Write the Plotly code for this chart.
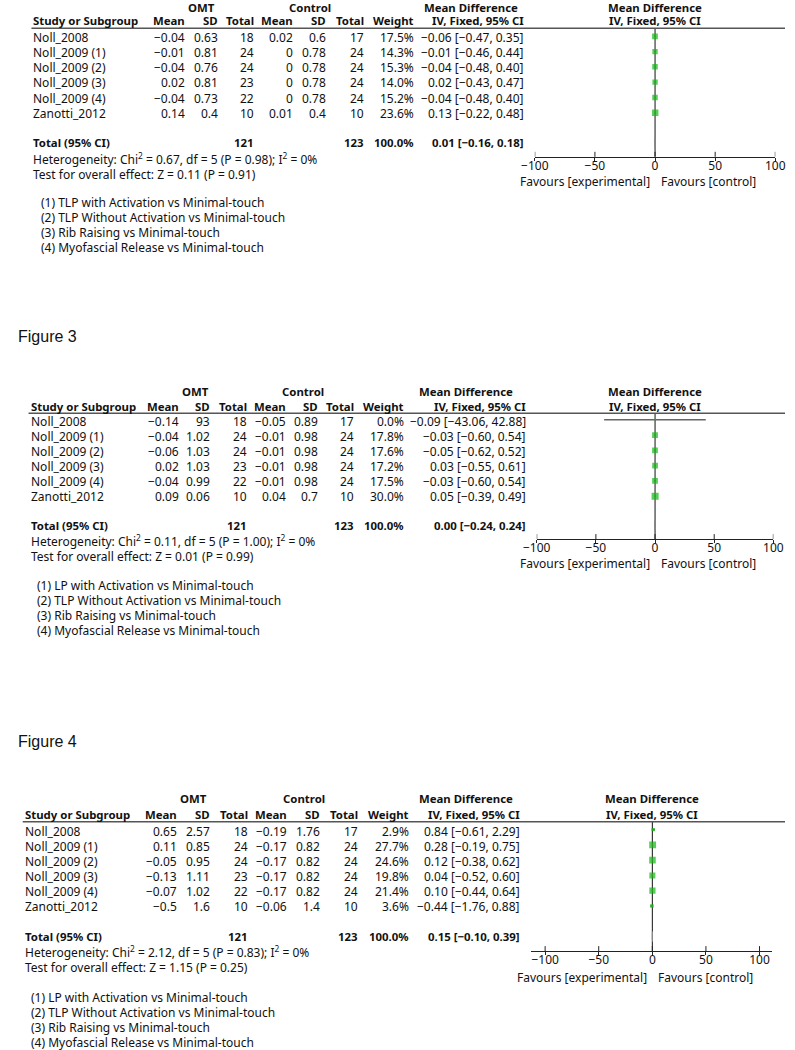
import plotly.graph_objects as go

W, H = 795, 1050
GREEN = "#13b613"
TXT = "#111111"
FONT = "Noto Sans"
FS = 12
FSB = 11.4

# ---------------- data ----------------
studies = ["Noll_2008", "Noll_2009 (1)", "Noll_2009 (2)", "Noll_2009 (3)", "Noll_2009 (4)", "Zanotti_2012"]

# Panel A (top, unlabelled)
a_omt_mean = [-0.04, -0.01, -0.04, 0.02, -0.04, 0.14]
a_omt_sd = [0.63, 0.81, 0.76, 0.81, 0.73, 0.4]
a_omt_n = [18, 24, 24, 23, 22, 10]
a_ctl_mean = [0.02, 0, 0, 0, 0, 0.01]
a_ctl_sd = [0.6, 0.78, 0.78, 0.78, 0.78, 0.4]
a_ctl_n = [17, 24, 24, 24, 24, 10]
a_weight = [17.5, 14.3, 15.3, 14.0, 15.2, 23.6]
a_md = [-0.06, -0.01, -0.04, 0.02, -0.04, 0.13]
a_lo = [-0.47, -0.46, -0.48, -0.43, -0.48, -0.22]
a_hi = [0.35, 0.44, 0.40, 0.47, 0.40, 0.48]
a_total = [121, 123, 100.0, 0.01, -0.16, 0.18]
a_stats = ["0.67", "5", "0.98", "0", "0.11", "0.91"]
a_notes = ["(1) TLP with Activation vs Minimal-touch", "(2) TLP Without Activation vs Minimal-touch",
           "(3) Rib Raising vs Minimal-touch", "(4) Myofascial Release vs Minimal-touch"]

# Panel B (Figure 3)
b_omt_mean = [-0.14, -0.04, -0.06, 0.02, -0.04, 0.09]
b_omt_sd = [93, 1.02, 1.03, 1.03, 0.99, 0.06]
b_omt_n = [18, 24, 24, 23, 22, 10]
b_ctl_mean = [-0.05, -0.01, -0.01, -0.01, -0.01, 0.04]
b_ctl_sd = [0.89, 0.98, 0.98, 0.98, 0.98, 0.7]
b_ctl_n = [17, 24, 24, 24, 24, 10]
b_weight = [0.0, 17.8, 17.6, 17.2, 17.5, 30.0]
b_md = [-0.09, -0.03, -0.05, 0.03, -0.03, 0.05]
b_lo = [-43.06, -0.60, -0.62, -0.55, -0.60, -0.39]
b_hi = [42.88, 0.54, 0.52, 0.61, 0.54, 0.49]
b_total = [121, 123, 100.0, 0.00, -0.24, 0.24]
b_stats = ["0.11", "5", "1.00", "0", "0.01", "0.99"]
b_notes = ["(1) LP with Activation vs Minimal-touch", "(2) TLP Without Activation vs Minimal-touch",
           "(3) Rib Raising vs Minimal-touch", "(4) Myofascial Release vs Minimal-touch"]

# Panel C (Figure 4)
c_omt_mean = [0.65, 0.11, -0.05, -0.13, -0.07, -0.5]
c_omt_sd = [2.57, 0.85, 0.95, 1.11, 1.02, 1.6]
c_omt_n = [18, 24, 24, 23, 22, 10]
c_ctl_mean = [-0.19, -0.17, -0.17, -0.17, -0.17, -0.06]
c_ctl_sd = [1.76, 0.82, 0.82, 0.82, 0.82, 1.4]
c_ctl_n = [17, 24, 24, 24, 24, 10]
c_weight = [2.9, 27.7, 24.6, 19.8, 21.4, 3.6]
c_md = [0.84, 0.28, 0.12, 0.04, 0.10, -0.44]
c_lo = [-0.61, -0.19, -0.38, -0.52, -0.44, -1.76]
c_hi = [2.29, 0.75, 0.62, 0.60, 0.64, 0.88]
c_total = [121, 123, 100.0, 0.15, -0.10, 0.39]
c_stats = ["2.12", "5", "0.83", "0", "1.15", "0.25"]
c_notes = ["(1) LP with Activation vs Minimal-touch", "(2) TLP Without Activation vs Minimal-touch",
           "(3) Rib Raising vs Minimal-touch", "(4) Myofascial Release vs Minimal-touch"]

tick_vals = [-100, -50, 0, 50, 100]

# ---------------- layout constants (pixels) ----------------
panels = [
    dict(label=None, data=(a_omt_mean, a_omt_sd, a_omt_n, a_ctl_mean, a_ctl_sd, a_ctl_n, a_weight, a_md, a_lo, a_hi),
         total=a_total, stats=a_stats, notes=a_notes,
         left=19, cols=[177, 211, 249, 289, 323, 362, 413, 527], omt_c=193, ctl_c=305, md_c=471, plot_c=661,
         hdr1=7, hdr2=20.5, line=28.3, row0=37.7, step=15.1, tot=142.7, het=159.2, test=174.5,
         foot0=202.7, foot_left=27, axis=156.7, fav=181, xdom=(537, 785), xrange=(-100, 100)),
    dict(label=("Figure 3", 3, 336.7),
         data=(b_omt_mean, b_omt_sd, b_omt_n, b_ctl_mean, b_ctl_sd, b_ctl_n, b_weight, b_md, b_lo, b_hi),
         total=b_total, stats=b_stats, notes=b_notes,
         left=16, cols=[171, 203, 241, 282, 315, 352, 403, 529], omt_c=187, ctl_c=298, md_c=466, plot_c=661,
         hdr1=391, hdr2=406, line=413.3, row0=421.2, step=15.1, tot=525.5, het=541.2, test=556.8,
         foot0=585, foot_left=23, axis=539, fav=563.5, xdom=(539, 783), xrange=(-100, 100)),
    dict(label=("Figure 4", 3, 741.7),
         data=(c_omt_mean, c_omt_sd, c_omt_n, c_ctl_mean, c_ctl_sd, c_ctl_n, c_weight, c_md, c_lo, c_hi),
         total=c_total, stats=c_stats, notes=c_notes,
         left=10, cols=[169, 203, 242, 283, 317, 356, 408, 523], omt_c=185.5, ctl_c=299, md_c=466, plot_c=658,
         hdr1=798.3, hdr2=814, line=821.7, row0=831, step=15.1, tot=936.7, het=952.2, test=967.5,
         foot0=997.3, foot_left=17, axis=951, fav=977, xdom=(533.3, 782), xrange=(-113, 112)),
]


def fx(x):
    return x / W


def fy(y):
    return 1 - y / H


def num(v):
    return f"{v:g}".replace("-", "\u2212")


def f2(v):
    return f"{v:.2f}".replace("-", "\u2212")


fig = go.Figure()
annotations = []
shapes = []


def add_text(text, x, y, anchor="left", size=None, bold=False, family=FONT, color=TXT):
    if size is None:
        size = FSB if bold else FS
    if bold:
        text = f"<b>{text}</b>"
    annotations.append(dict(text=text, x=fx(x), y=fy(y), xref="paper", yref="paper",
                            xanchor=anchor, yanchor="middle", showarrow=False,
                            font=dict(family=family, size=size, color=color), borderpad=0))


for k, p in enumerate(panels):
    (om, osd, on, cm, csd, cn, wt, md, lo, hi) = p["data"]
    cols = p["cols"]
    if p["label"]:
        add_text(p["label"][0], p["label"][1], p["label"][2], size=16, family="Liberation Sans", color="#111")
    # headers
    add_text("OMT", p["omt_c"], p["hdr1"], "center", bold=True)
    add_text("Control", p["ctl_c"], p["hdr1"], "center", bold=True)
    add_text("Mean Difference", p["md_c"], p["hdr1"], "center", bold=True)
    add_text("Mean Difference", p["plot_c"], p["hdr1"], "center", bold=True)
    add_text("Study or Subgroup", p["left"], p["hdr2"], "left", bold=True)
    for c, t in zip(cols, ["Mean", "SD", "Total", "Mean", "SD", "Total", "Weight", "IV, Fixed, 95% CI"]):
        add_text(t, c, p["hdr2"], "right", bold=True)
    add_text("IV, Fixed, 95% CI", p["plot_c"], p["hdr2"], "center", bold=True)
    shapes.append(dict(type="line", xref="paper", yref="paper", x0=fx(p["left"] - 1), x1=1,
                       y0=fy(p["line"]), y1=fy(p["line"]), line=dict(color="#555", width=1.5)))
    # rows
    for i, s in enumerate(studies):
        y = p["row0"] + i * p["step"]
        add_text(s, p["left"], y, "left")
        vals = [num(om[i]), num(osd[i]), str(on[i]), num(cm[i]), num(csd[i]), str(cn[i]),
                f"{wt[i]:.1f}%", f"{f2(md[i])} [{f2(lo[i])}, {f2(hi[i])}]"]
        for c, t in zip(cols, vals):
            add_text(t, c, y, "right")
    tt = p["total"]
    add_text("Total (95% CI)", p["left"], p["tot"], "left", bold=True)
    add_text(str(tt[0]), cols[2], p["tot"], "right", bold=True)
    add_text(str(tt[1]), cols[5], p["tot"], "right", bold=True)
    add_text(f"{tt[2]:.1f}%", cols[6], p["tot"], "right", bold=True)
    add_text(f"{f2(tt[3])} [{f2(tt[4])}, {f2(tt[5])}]", cols[7], p["tot"], "right", bold=True)
    st = p["stats"]
    add_text(f"Heterogeneity: Chi<sup>2</sup> = {st[0]}, df = {st[1]} (P = {st[2]}); I<sup>2</sup> = {st[3]}%",
             p["left"], p["het"], "left")
    add_text(f"Test for overall effect: Z = {st[4]} (P = {st[5]})", p["left"], p["test"], "left")
    for j, n in enumerate(p["notes"]):
        add_text(n, p["foot_left"], p["foot0"] + j * 15.0, "left")
    add_text("Favours [experimental]", p["plot_c"] - 4.5, p["fav"], "right")
    add_text("Favours [control]", p["plot_c"] + 5.5, p["fav"], "left")

    # forest plot axes
    xa = "x" if k == 0 else f"x{k + 1}"
    ya = "y" if k == 0 else f"y{k + 1}"
    r_top = (p["line"] + 1.5 - p["row0"]) / p["step"]
    r_bot = (p["axis"] - p["row0"]) / p["step"]
    tot_r = (p["tot"] - p["row0"]) / p["step"]
    rows = list(range(len(studies)))
    sizes = [1.6 + 1.0 * (w ** 0.5) for w in wt]
    fig.add_trace(go.Scatter(
        x=md, y=rows, mode="markers", xaxis=xa, yaxis=ya,
        marker=dict(symbol="square", size=sizes, color=GREEN, line=dict(width=0)),
        error_x=dict(type="data", symmetric=False,
                     array=[h - m for h, m in zip(hi, md)],
                     arrayminus=[m - l for m, l in zip(md, lo)],
                     color="#666", thickness=1.6, width=0),
        showlegend=False, hoverinfo="skip"))
    fig.add_trace(go.Scatter(
        x=[tt[4], tt[3], tt[5], tt[3], tt[4]],
        y=[tot_r, tot_r - 0.32, tot_r, tot_r + 0.32, tot_r],
        mode="lines", fill="toself", fillcolor="#333", line=dict(color="#888", width=1),
        xaxis=xa, yaxis=ya, showlegend=False, hoverinfo="skip"))
    # upper half of tick marks (inside part), clipped by the plot area
    fig.add_trace(go.Scatter(
        x=tick_vals, y=[r_bot] * len(tick_vals), mode="markers", xaxis=xa, yaxis=ya,
        marker=dict(symbol="line-ns-open", size=7, color="#222", line=dict(color="#222", width=1)),
        showlegend=False, hoverinfo="skip"))
    shapes.append(dict(type="line", xref=xa, yref=f"{ya} domain", x0=0, x1=0, y0=0, y1=1,
                       line=dict(color="#111", width=1), layer="below"))
    xkey = "xaxis" if k == 0 else f"xaxis{k + 1}"
    ykey = "yaxis" if k == 0 else f"yaxis{k + 1}"
    fig.update_layout(**{
        xkey: dict(domain=[fx(p["xdom"][0]), fx(p["xdom"][1])], range=list(p["xrange"]), anchor=ya,
                   showline=True, linecolor="#222", linewidth=1, ticks="outside", ticklen=3,
                   tickcolor="#222", tickvals=tick_vals, showgrid=False, zeroline=False,
                   ticklabelstandoff=-5,
                   tickfont=dict(family=FONT, size=FS, color=TXT), fixedrange=True),
        ykey: dict(domain=[fy(p["axis"]), fy(p["line"])], range=[r_bot, r_top], anchor=xa,
                   visible=False, showgrid=False, zeroline=False, fixedrange=True),
    })

fig.update_layout(width=W, height=H, margin=dict(l=0, r=0, t=0, b=0),
                  paper_bgcolor="white", plot_bgcolor="rgba(0,0,0,0)",
                  annotations=annotations, shapes=shapes, showlegend=False)
fig.write_html("out.html", config={"displayModeBar": False},
               post_script="document.body.style.margin='0';")
